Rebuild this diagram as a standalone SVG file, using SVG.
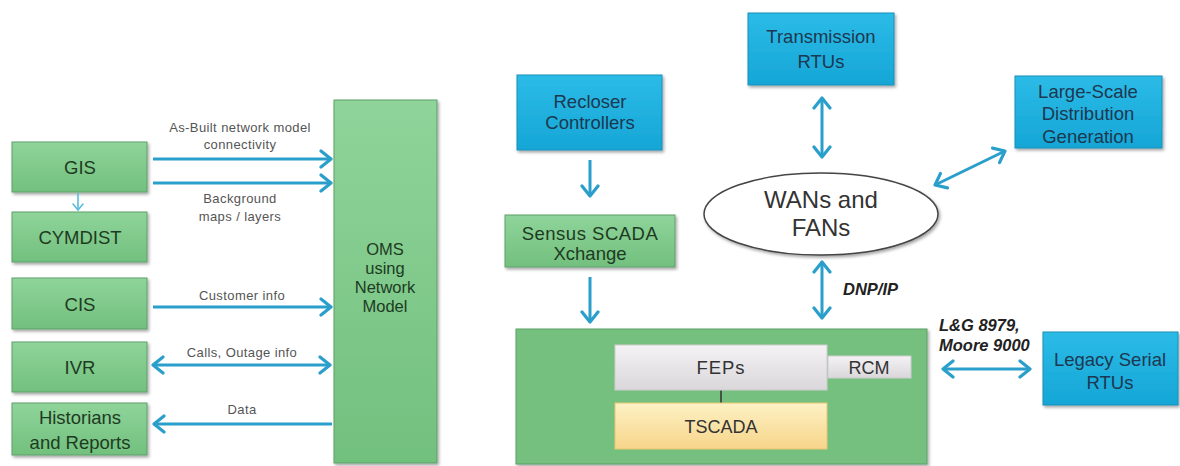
<svg xmlns="http://www.w3.org/2000/svg" width="1180" height="466" viewBox="0 0 1180 466">
<defs>
<style>
.t{font-family:"Liberation Sans",Arial,sans-serif;text-anchor:middle}
.gt{font-size:18.5px;fill:#1e3b22}
.ot{font-size:16.5px;fill:#1e3b22}
.bt{font-size:18.5px;fill:#1d3850}
.lb{font-size:13px;fill:#555;letter-spacing:0.4px}
.it{font-size:16.5px;font-weight:bold;font-style:italic;fill:#222;text-anchor:start}
.gbox{fill:url(#gg);stroke:#5f9f68;stroke-width:1;filter:url(#sh)}
.bbox{fill:url(#bg);stroke:#1a8fb8;stroke-width:1;filter:url(#sh)}
.ar{fill:none;stroke:#2a9fcb;stroke-width:3}
</style>
<linearGradient id="gg" x1="0" y1="0" x2="0" y2="1"><stop offset="0" stop-color="#8fd49a"/><stop offset="1" stop-color="#72c07e"/></linearGradient>
<linearGradient id="bg" x1="0" y1="0" x2="0" y2="1"><stop offset="0" stop-color="#2cbbe7"/><stop offset="1" stop-color="#15a6d6"/></linearGradient>
<linearGradient id="fg" x1="0" y1="0" x2="0" y2="1"><stop offset="0" stop-color="#f4f2f4"/><stop offset="1" stop-color="#d9d7da"/></linearGradient>
<linearGradient id="yg" x1="0" y1="0" x2="0" y2="1"><stop offset="0" stop-color="#fdf1c4"/><stop offset="1" stop-color="#f7d58a"/></linearGradient>
<filter id="sh" x="-10%" y="-10%" width="130%" height="130%"><feDropShadow dx="1.5" dy="2" stdDeviation="1.5" flood-color="#000" flood-opacity="0.35"/></filter>
<marker id="ah" viewBox="0 0 14 20" refX="12" refY="10" markerWidth="14" markerHeight="20" markerUnits="userSpaceOnUse" orient="auto-start-reverse"><path d="M2,2 L12,10 L2,18" fill="none" stroke="#2a9fcb" stroke-width="3.2" stroke-linecap="round" stroke-linejoin="round"/></marker>
<marker id="ahs" viewBox="0 0 10 12" refX="8" refY="6" markerWidth="10" markerHeight="12" markerUnits="userSpaceOnUse" orient="auto-start-reverse"><path d="M2,1 L8,6 L2,11" fill="none" stroke="#5bbcdc" stroke-width="1.6" stroke-linecap="round"/></marker>
</defs>
<rect width="1180" height="466" fill="#fff"/>

<g id="gis"><rect class="gbox" x="12" y="142" width="135" height="50"/><text class="t gt" x="80" y="174">GIS</text></g>
<g id="cymdist"><rect class="gbox" x="12" y="212" width="135" height="50"/><text class="t gt" x="80" y="244">CYMDIST</text></g>
<g id="cis"><rect class="gbox" x="12" y="278" width="135" height="51"/><text class="t gt" x="80" y="311">CIS</text></g>
<g id="ivr"><rect class="gbox" x="12" y="342" width="135" height="50"/><text class="t gt" x="80" y="374">IVR</text></g>
<g id="historians"><rect class="gbox" x="12" y="403" width="135" height="52"/><text class="t gt" x="80" y="424">Historians</text><text class="t gt" x="80" y="449">and Reports</text></g>

<g id="oms"><rect class="gbox" x="334" y="100" width="103" height="363"/><text class="t ot" x="385" y="255">OMS</text><text class="t ot" x="385" y="274">using</text><text class="t ot" x="385" y="293">Network</text><text class="t ot" x="385" y="312">Model</text></g>

<g id="recloser"><rect class="bbox" x="517" y="75" width="145" height="75"/><text class="t bt" x="590" y="108">Recloser</text><text class="t bt" x="590" y="129">Controllers</text></g>
<g id="sensus"><rect class="gbox" x="505" y="215" width="170" height="52"/><text class="t gt" x="590" y="240" style="letter-spacing:0.5px">Sensus SCADA</text><text class="t gt" x="590" y="260">Xchange</text></g>
<g id="transmission"><rect class="bbox" x="748" y="13" width="146" height="72"/><text class="t bt" x="821" y="43">Transmission</text><text class="t bt" x="821" y="68">RTUs</text></g>
<g id="largescale"><rect class="bbox" x="1015" y="76" width="147" height="72"/><text class="t bt" x="1088" y="98">Large-Scale</text><text class="t bt" x="1088" y="120">Distribution</text><text class="t bt" x="1088" y="143">Generation</text></g>
<g id="wans"><ellipse cx="821" cy="214" rx="117" ry="41" fill="#fff" stroke="#444" stroke-width="1.5" filter="url(#sh)"/><text class="t" x="821" y="208" font-size="24" fill="#333">WANs and</text><text class="t" x="821" y="236" font-size="24" fill="#333">FANs</text></g>

<g id="scada"><rect class="gbox" x="516" y="329" width="411" height="135" style="fill:#74c07f"/>
<line x1="721" y1="390" x2="721" y2="403" stroke="#333" stroke-width="1.5"/>
<g id="feps"><rect x="615" y="345" width="212" height="45" fill="url(#fg)" stroke="#cfcdd0" stroke-width="1"/><text class="t" x="721" y="374" font-size="18.5" fill="#333" style="letter-spacing:1px">FEPs</text></g>
<g id="rcm"><rect x="828" y="356" width="83" height="22" fill="url(#fg)" stroke="#cfcdd0" stroke-width="1"/><text class="t" x="869" y="374" font-size="18" fill="#333">RCM</text></g>
<g id="tscada"><rect x="615" y="403" width="212" height="46" fill="url(#yg)" stroke="#e8c774" stroke-width="1"/><text class="t" x="721" y="433" font-size="18" fill="#333">TSCADA</text></g>
</g>

<g id="legacy"><rect class="bbox" x="1043" y="332" width="135" height="73"/><text class="t bt" x="1110" y="366">Legacy Serial</text><text class="t bt" x="1110" y="389">RTUs</text></g>

<g id="connectors">
<line class="ar" x1="153" y1="159" x2="331" y2="159" marker-end="url(#ah)"/>
<line class="ar" x1="153" y1="183" x2="331" y2="183" marker-end="url(#ah)"/>
<line class="ar" x1="153" y1="307" x2="331" y2="307" marker-end="url(#ah)"/>
<line class="ar" x1="153" y1="365" x2="330" y2="365" marker-start="url(#ah)" marker-end="url(#ah)"/>
<line class="ar" x1="332" y1="424" x2="154" y2="424" marker-end="url(#ah)"/>
<line x1="78" y1="193" x2="78" y2="210" stroke="#5bbcdc" stroke-width="1.6" marker-end="url(#ahs)"/>
<line class="ar" x1="590" y1="160" x2="590" y2="196" marker-end="url(#ah)"/>
<line class="ar" x1="590" y1="277" x2="590" y2="322" marker-end="url(#ah)"/>
<line class="ar" x1="822" y1="98" x2="822" y2="157" marker-start="url(#ah)" marker-end="url(#ah)"/>
<line class="ar" x1="935" y1="185" x2="1005" y2="151" marker-start="url(#ah)" marker-end="url(#ah)"/>
<line class="ar" x1="822" y1="262" x2="822" y2="318" marker-start="url(#ah)" marker-end="url(#ah)"/>
<line class="ar" x1="943" y1="369" x2="1030" y2="369" marker-start="url(#ah)" marker-end="url(#ah)"/>
<text class="t lb" x="240" y="132">As-Built network model</text>
<text class="t lb" x="240" y="149">connectivity</text>
<text class="t lb" x="240" y="203">Background</text>
<text class="t lb" x="240" y="221">maps / layers</text>
<text class="t lb" x="242" y="300">Customer info</text>
<text class="t lb" x="242" y="357">Calls, Outage info</text>
<text class="t lb" x="242" y="414">Data</text>
<text class="t it" x="843" y="295">DNP/IP</text>
<text class="t it" x="939" y="331">L&amp;G 8979,</text>
<text class="t it" x="939" y="351">Moore 9000</text>
</g>
</svg>
